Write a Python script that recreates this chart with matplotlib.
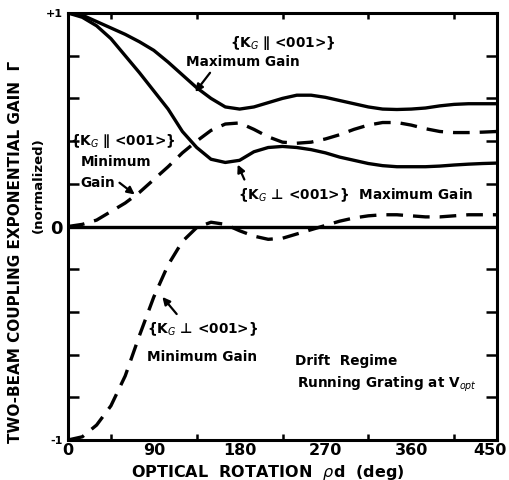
import matplotlib
matplotlib.use("Agg")
import matplotlib.pyplot as plt
import matplotlib.transforms as mtransforms
import numpy as np

# ---- data ----
rotation_deg = [0, 15, 30, 45, 60, 75, 90, 105, 120, 135, 150, 165, 180, 195, 210,
                225, 240, 255, 270, 285, 300, 315, 330, 345, 360, 375, 390, 405,
                420, 435, 450]

par_max = [1.0, 0.99, 0.96, 0.93, 0.9, 0.865, 0.825, 0.77, 0.71, 0.65, 0.60, 0.56,
           0.55, 0.56, 0.58, 0.60, 0.615, 0.615, 0.605, 0.59, 0.575, 0.56, 0.55,
           0.548, 0.55, 0.555, 0.565, 0.572, 0.575, 0.575, 0.575]

perp_max = [1.0, 0.98, 0.94, 0.88, 0.80, 0.72, 0.635, 0.55, 0.445, 0.37, 0.315,
            0.30, 0.31, 0.35, 0.37, 0.375, 0.37, 0.36, 0.345, 0.325, 0.31, 0.295,
            0.285, 0.28, 0.28, 0.28, 0.283, 0.288, 0.292, 0.295, 0.297]

par_min = [0.0, 0.01, 0.03, 0.07, 0.11, 0.16, 0.22, 0.28, 0.345, 0.40, 0.45, 0.48,
           0.485, 0.455, 0.42, 0.395, 0.39, 0.395, 0.41, 0.43, 0.455, 0.475, 0.487,
           0.487, 0.475, 0.458, 0.445, 0.44, 0.44, 0.442, 0.445]

perp_min = [-1.0, -0.985, -0.93, -0.84, -0.70, -0.51, -0.33, -0.18, -0.07, -0.005,
            0.02, 0.01, -0.02, -0.045, -0.06, -0.055, -0.035, -0.015, 0.005, 0.025,
            0.04, 0.05, 0.055, 0.055, 0.05, 0.045, 0.045, 0.05, 0.055, 0.055, 0.055]

x_major = [0, 90, 180, 270, 360, 450]
x_major_labels = ["0", "90", "180", "270", "360", "450"]
y_major = [-1, 0, 1]
y_major_labels = ["-1", "0", "+1"]

plt.rcParams['font.family'] = ['DejaVu Sans']
fig = plt.figure(figsize=(5.09, 4.80), dpi=100)
ax = fig.add_axes([68/509, 40/480, (497-68)/509, (440-13)/480])

lw = 2.4
dash = (0, (5, 3))
ax.plot(rotation_deg, par_max, color='black', lw=lw)
ax.plot(rotation_deg, perp_max, color='black', lw=lw)
ax.plot(rotation_deg, par_min, color='black', lw=lw, linestyle=dash)
ax.plot(rotation_deg, perp_min, color='black', lw=lw, linestyle=dash)
ax.axhline(0, color='black', lw=2.4)

ax.set_xlim(0, 450)
ax.set_ylim(-1, 1)
ax.set_xticks(x_major)
ax.set_xticklabels(x_major_labels, fontsize=11.5, fontweight='bold')
ax.set_xticks(np.arange(0, 451, 45), minor=True)
ax.set_yticks(y_major)
ax.set_yticklabels(y_major_labels, fontweight='bold')
ax.set_yticks(np.arange(-1, 1.01, 0.2), minor=True)
ax.tick_params(which='both', direction='in', top=True, right=True, width=1.8)
ax.tick_params(which='major', length=0, pad=4)
ax.tick_params(axis='x', which='major', pad=2)
ax.tick_params(axis='y', which='minor', length=8)
ax.tick_params(axis='x', which='minor', length=4)
for s in ax.spines.values():
    s.set_linewidth(2.2)

ylbls = ax.get_yticklabels()
ylbls[0].set_fontsize(8)
ylbls[1].set_fontsize(13)
ylbls[2].set_fontsize(8)
xlbls = ax.get_xticklabels()
xlbls[-1].set_transform(xlbls[-1].get_transform() +
                        mtransforms.ScaledTranslation(-7/100, 0, fig.dpi_scale_trans))

fig.text(16/509, 1 - 252/480, "TWO-BEAM COUPLING EXPONENTIAL GAIN  Γ",
         rotation=90, ha='center', va='center', fontsize=11, fontweight='bold')
fig.text(38/509, 1 - 185/480, "(normalized)", rotation=90, ha='center',
         va='center', fontsize=9.5, fontweight='bold')
fig.text(268/509, 1 - 472/480, r"OPTICAL  ROTATION  $\rho$d  (deg)",
         ha='center', va='center', fontsize=11.5, fontweight='bold')

tk = dict(fontsize=9.8, fontweight='bold', ha='left', va='center')
ax.text(170, 0.86, r"{K$_G$ ∥ <001>}", **tk)
ax.text(124, 0.77, "Maximum Gain", **tk)
ax.text(2, 0.40, r"{K$_G$ ∥ <001>}", **tk)
ax.text(13, 0.30, "Minimum", **tk)
ax.text(13, 0.205, "Gain", **tk)
ax.text(178, 0.145, r"{K$_G$ ⊥ <001>}  Maximum Gain", **tk)
ax.text(83, -0.48, r"{K$_G$ ⊥ <001>}", **tk)
ax.text(83, -0.61, "Minimum Gain", **tk)
ax.text(238, -0.63, "Drift  Regime", **tk)
ax.text(240, -0.74, r"Running Grating at V$_{opt}$", **tk)

ap = dict(arrowstyle='-|>', color='black', lw=1.6, mutation_scale=11,
          shrinkA=0, shrinkB=0)
ax.annotate("", xy=(133.5, 0.63), xytext=(149, 0.72), arrowprops=ap)
ax.annotate("", xy=(70, 0.15), xytext=(54, 0.205), arrowprops=ap)
ax.annotate("", xy=(178, 0.29), xytext=(185, 0.22), arrowprops=ap)
ax.annotate("", xy=(99, -0.33), xytext=(114, -0.41), arrowprops=ap)

fig.savefig("out.png", dpi=100)
